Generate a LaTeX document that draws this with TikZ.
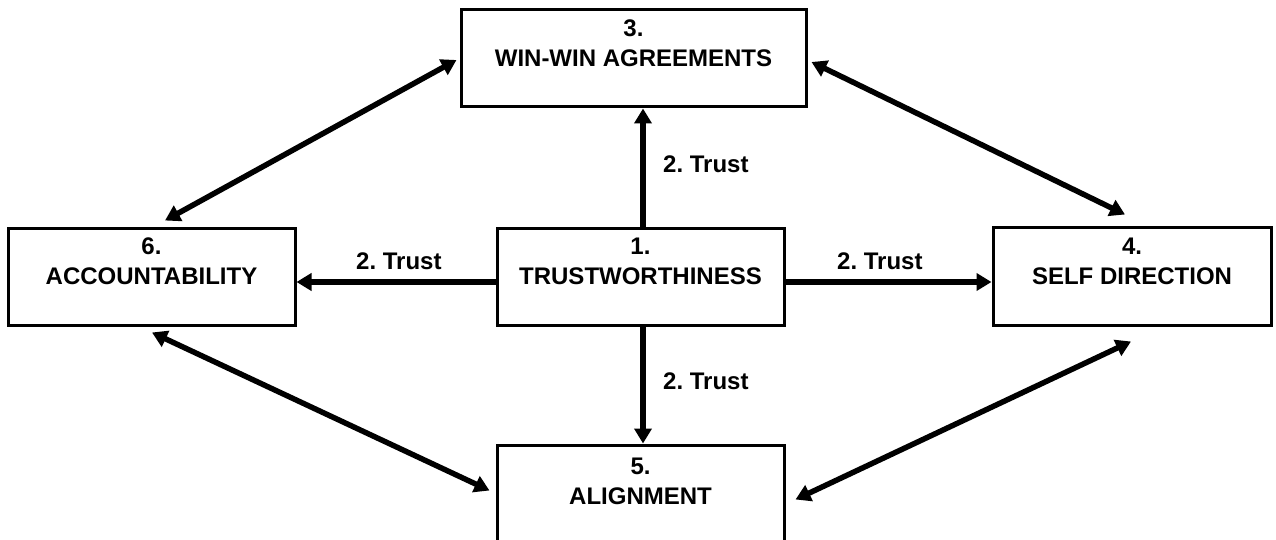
\documentclass[tikz,border=0pt]{standalone}
\usepackage{fontspec}
\setmainfont{Liberation Sans}
\usetikzlibrary{arrows.meta,calc}
\frenchspacing
\begin{document}
\begin{tikzpicture}[x=1pt,y=-1pt,
  box/.style={draw=black,line width=3pt,rectangle,inner sep=0pt,fill=white},
  boxtext/.style={font=\fontsize{24}{30}\selectfont\bfseries,align=center,inner sep=0pt,anchor=north},
  lbl/.style={font=\fontsize{24}{30}\selectfont\bfseries,inner sep=0pt,anchor=base west},
  onearrow/.style={line width=5.5pt,-{Triangle[length=15pt,width=17pt]}},
  twoarrow/.style={line width=5.5pt,{Triangle[length=15pt,width=17pt]}-{Triangle[length=15pt,width=17pt]}}]
\useasboundingbox (0,0) rectangle (1276,540);
\clip (0,0) rectangle (1276,540);
\fill[white] (0,0) rectangle (1276,540);
% boxes
\node[box,minimum width=345pt,minimum height=97pt] (b3) at (633.5,58.5) {};
\node[box,minimum width=287pt,minimum height=97pt] (b6) at (151.5,276.5) {};
\node[box,minimum width=287pt,minimum height=97pt] (b1) at (640.5,276.5) {};
\node[box,minimum width=278pt,minimum height=98pt] (b4) at (1132,276) {};
\node[box,minimum width=287pt,minimum height=130pt] (b5) at (640.5,510) {};
% box texts
\node[boxtext] (t3) at ($(b3.north)+(0,11)$) {3.\\WIN-WIN AGREEMENTS};
\node[boxtext] (t6) at ($(b6.north)+(0,11)$) {6.\\ACCOUNTABILITY};
\node[boxtext] (t1) at ($(b1.north)+(0,11)$) {1.\\TRUSTWORTHINESS};
\node[boxtext] (t4) at ($(b4.north)+(0,12)$) {4.\\SELF DIRECTION};
\node[boxtext] (t5) at ($(b5.north)+(0,14)$) {5.\\ALIGNMENT};
% trust arrows
\draw[onearrow] ($(b1.north)+(2.5,0)$) -- ($(b1.north |- b3.south)+(2.5,0)$);
\draw[onearrow] ($(b1.south)+(2.5,0)$) -- ($(b1.south |- b5.north)+(2.5,0)$);
\draw[onearrow] ($(b1.west)+(0,5.5)$) -- ($(b1.west -| b6.east)+(0,5.5)$);
\draw[onearrow] ($(b1.east)+(0,5.5)$) -- ($(b1.east -| b4.west)+(0,5.5)$);
% labels
\node[lbl] (l1) at (663,173) {2. Trust};
\node[lbl] (l2) at (663,389) {2. Trust};
\node[lbl] (l3) at (356,269) {2. Trust};
\node[lbl] (l4) at (837,269) {2. Trust};
% diagonal double arrows
\draw[twoarrow] ($(b3.west)+(-3,1.5)$) -- ($(b6.north)+(13.5,-6)$);
\draw[twoarrow] ($(b3.east)+(4,3.5)$) -- ($(b4.north)+(-7,-11)$);
\draw[twoarrow] ($(b6.south)+(0.5,6)$) -- ($(b5.north west)+(-6,47)$);
\draw[twoarrow] ($(b4.south)+(-1,15)$) -- ($(b5.north east)+(10,56)$);
\end{tikzpicture}
\end{document}
